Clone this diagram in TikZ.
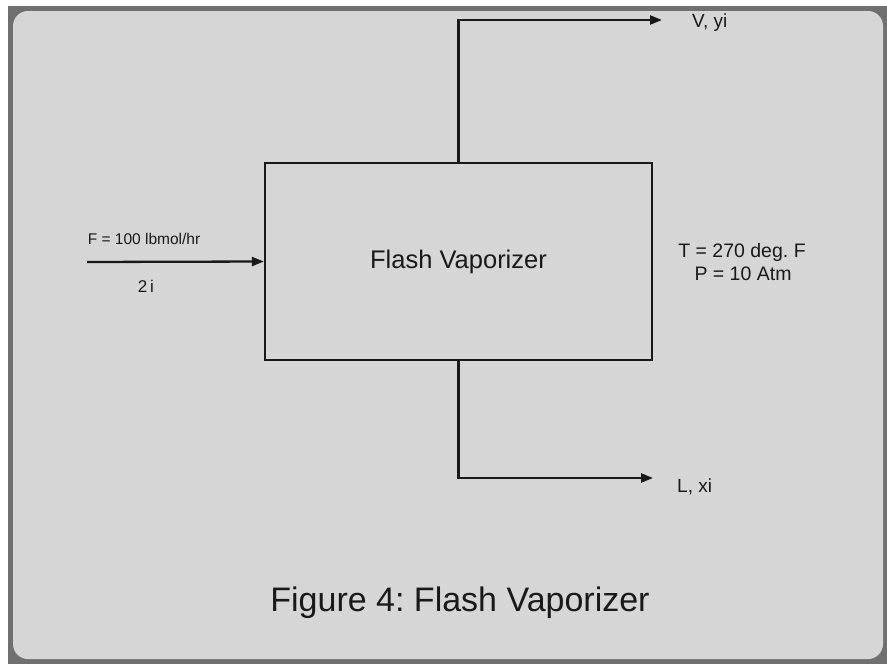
\documentclass[tikz,border=0pt]{standalone}
\usepackage{fontspec}
\setmainfont{Liberation Sans}
\usetikzlibrary{arrows.meta}
\definecolor{slidegray}{RGB}{214,214,214}
\definecolor{framegray}{RGB}{112,112,112}
\definecolor{inkgray}{RGB}{25,25,25}
\frenchspacing

\begin{document}
\begin{tikzpicture}[x=1pt, y=-1pt,
    unit/.style={draw=inkgray, line width=2.3pt, inner sep=0pt, minimum width=387pt, minimum height=197pt,
      text=inkgray, font=\fontsize{25.5}{30}\selectfont},
    stream/.style={inkgray, line width=2.3pt, -{Triangle[length=12pt, width=9pt]}},
    tag/.style={inner sep=0pt, anchor=base, text=inkgray}]
  \useasboundingbox (0,0) rectangle (887,664);
  % slide background
  \fill[white] (0,0) rectangle (887,664);
  \fill[framegray] (8,6) rectangle (887,664);
  \fill[slidegray, rounded corners=15pt] (13,11) rectangle (883,659);
  % the vaporizer
  \node[unit] (flash) at (458.5,261.5) {Flash Vaporizer};
  % stream end points
  \coordinate (feed) at (87,262);
  \coordinate (vtip) at (662,20);
  \coordinate (ltip) at (653,478);
  \draw[stream] (feed) -- (flash.west);
  \draw[stream] (flash.north) |- (vtip);
  \draw[stream] (flash.south) |- (ltip);
  % stream labels
  \node[tag, font=\fontsize{15.5}{18}\selectfont] (ffeed) at (144,244) {F = 100 lbmol/hr};
  \node[tag, font=\fontsize{17}{20}\selectfont] (zfeed) at (146,292) {2\,i};
  \node[tag, anchor=base west, font=\fontsize{19}{22}\selectfont] (vout) at (692,27) {V, yi};
  \node[tag, anchor=base west, font=\fontsize{19}{22}\selectfont] (lout) at (677,492) {L, xi};
  % operating conditions
  \node[tag, font=\fontsize{19.5}{22}\selectfont] (tcond) at (742,257) {T = 270 deg. F};
  \node[tag, font=\fontsize{19.5}{22}\selectfont] (pcond) at (743,280) {P = 10 Atm};
  % caption
  \node[tag, font=\fontsize{34}{40}\selectfont] (caption) at (460,611) {Figure 4: Flash Vaporizer};
\end{tikzpicture}
\end{document}
